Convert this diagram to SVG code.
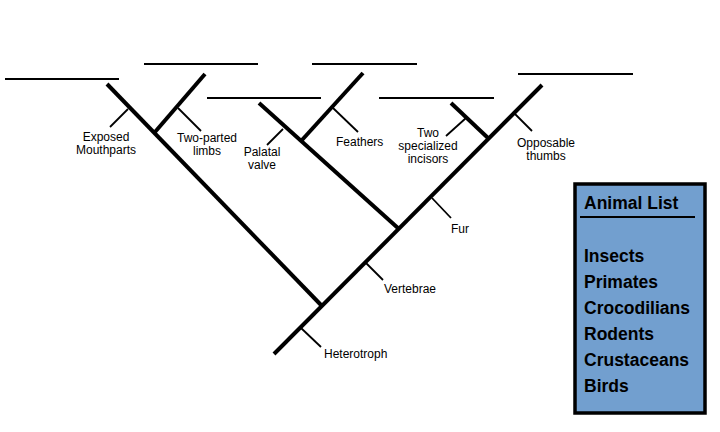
<svg xmlns="http://www.w3.org/2000/svg" width="720" height="432" viewBox="0 0 720 432">
<style>
.thick{stroke:#000;stroke-width:4;fill:none;stroke-linecap:butt}
.tip{stroke:#000;stroke-width:2.2;fill:none}
.tick{stroke:#000;stroke-width:1.8;fill:none}
.lbl{font-family:"Liberation Sans",Arial,sans-serif;font-size:12px;fill:#000;text-anchor:middle}
.lbs{font-family:"Liberation Sans",Arial,sans-serif;font-size:12px;fill:#000}
.box{fill:#729fcf;stroke:#000;stroke-width:3.5}
.bt{font-family:"Liberation Sans",Arial,sans-serif;font-size:17.5px;font-weight:bold;fill:#000}
</style>
<rect width="720" height="432" fill="#fff"/>
<g id="connectors">
  <line class="thick" x1="274" y1="354" x2="542" y2="85"/>
  <line class="thick" x1="322" y1="306" x2="107" y2="84"/>
  <line class="thick" x1="155" y1="132" x2="205" y2="74"/>
  <line class="thick" x1="399" y1="229" x2="259" y2="103"/>
  <line class="thick" x1="302" y1="140" x2="363" y2="73"/>
  <line class="thick" x1="488" y1="138" x2="451" y2="103"/>
</g>
<g id="tips">
  <line class="tip" x1="5" y1="79" x2="119" y2="79"/>
  <line class="tip" x1="144" y1="64" x2="258" y2="64"/>
  <line class="tip" x1="207" y1="98" x2="321" y2="98"/>
  <line class="tip" x1="312" y1="64" x2="417" y2="64"/>
  <line class="tip" x1="379" y1="98" x2="494" y2="98"/>
  <line class="tip" x1="518" y1="74" x2="633" y2="74"/>
</g>
<g id="char-exposed">
  <line class="tick" x1="128" y1="109" x2="110" y2="127"/>
  <text class="lbl" x="106" y="141">Exposed</text>
  <text class="lbl" x="106" y="154">Mouthparts</text>
</g>
<g id="char-twoparted">
  <line class="tick" x1="178" y1="108" x2="201" y2="131"/>
  <text class="lbl" x="207" y="142">Two-parted</text>
  <text class="lbl" x="207" y="155">limbs</text>
</g>
<g id="char-palatal">
  <line class="tick" x1="283" y1="129" x2="267" y2="145"/>
  <text class="lbl" x="262" y="156">Palatal</text>
  <text class="lbl" x="262" y="169">valve</text>
</g>
<g id="char-feathers">
  <line class="tick" x1="333" y1="108" x2="358" y2="132"/>
  <text class="lbs" x="336" y="146">Feathers</text>
</g>
<g id="char-incisors">
  <line class="tick" x1="466" y1="118" x2="446" y2="136"/>
  <text class="lbl" x="428" y="137">Two</text>
  <text class="lbl" x="428" y="150">specialized</text>
  <text class="lbl" x="428" y="163">incisors</text>
</g>
<g id="char-thumbs">
  <line class="tick" x1="514" y1="113" x2="532" y2="131"/>
  <text class="lbl" x="546" y="147">Opposable</text>
  <text class="lbl" x="546" y="160">thumbs</text>
</g>
<g id="char-fur">
  <line class="tick" x1="432" y1="198" x2="451" y2="218"/>
  <text class="lbs" x="451" y="233">Fur</text>
</g>
<g id="char-vertebrae">
  <line class="tick" x1="366" y1="263" x2="383" y2="280"/>
  <text class="lbs" x="384" y="293">Vertebrae</text>
</g>
<g id="char-heterotroph">
  <line class="tick" x1="301" y1="328" x2="321" y2="347"/>
  <text class="lbs" x="324" y="358">Heterotroph</text>
</g>
<g id="animal-list">
  <rect class="box" x="575" y="184" width="130" height="229"/>
  <text class="bt" x="584" y="209">Animal List</text>
  <line x1="580" y1="217" x2="695" y2="217" stroke="#000" stroke-width="2"/>
  <text class="bt" x="584" y="262">Insects</text>
  <text class="bt" x="584" y="288">Primates</text>
  <text class="bt" x="584" y="314">Crocodilians</text>
  <text class="bt" x="584" y="340">Rodents</text>
  <text class="bt" x="584" y="366">Crustaceans</text>
  <text class="bt" x="584" y="392">Birds</text>
</g>
</svg>
